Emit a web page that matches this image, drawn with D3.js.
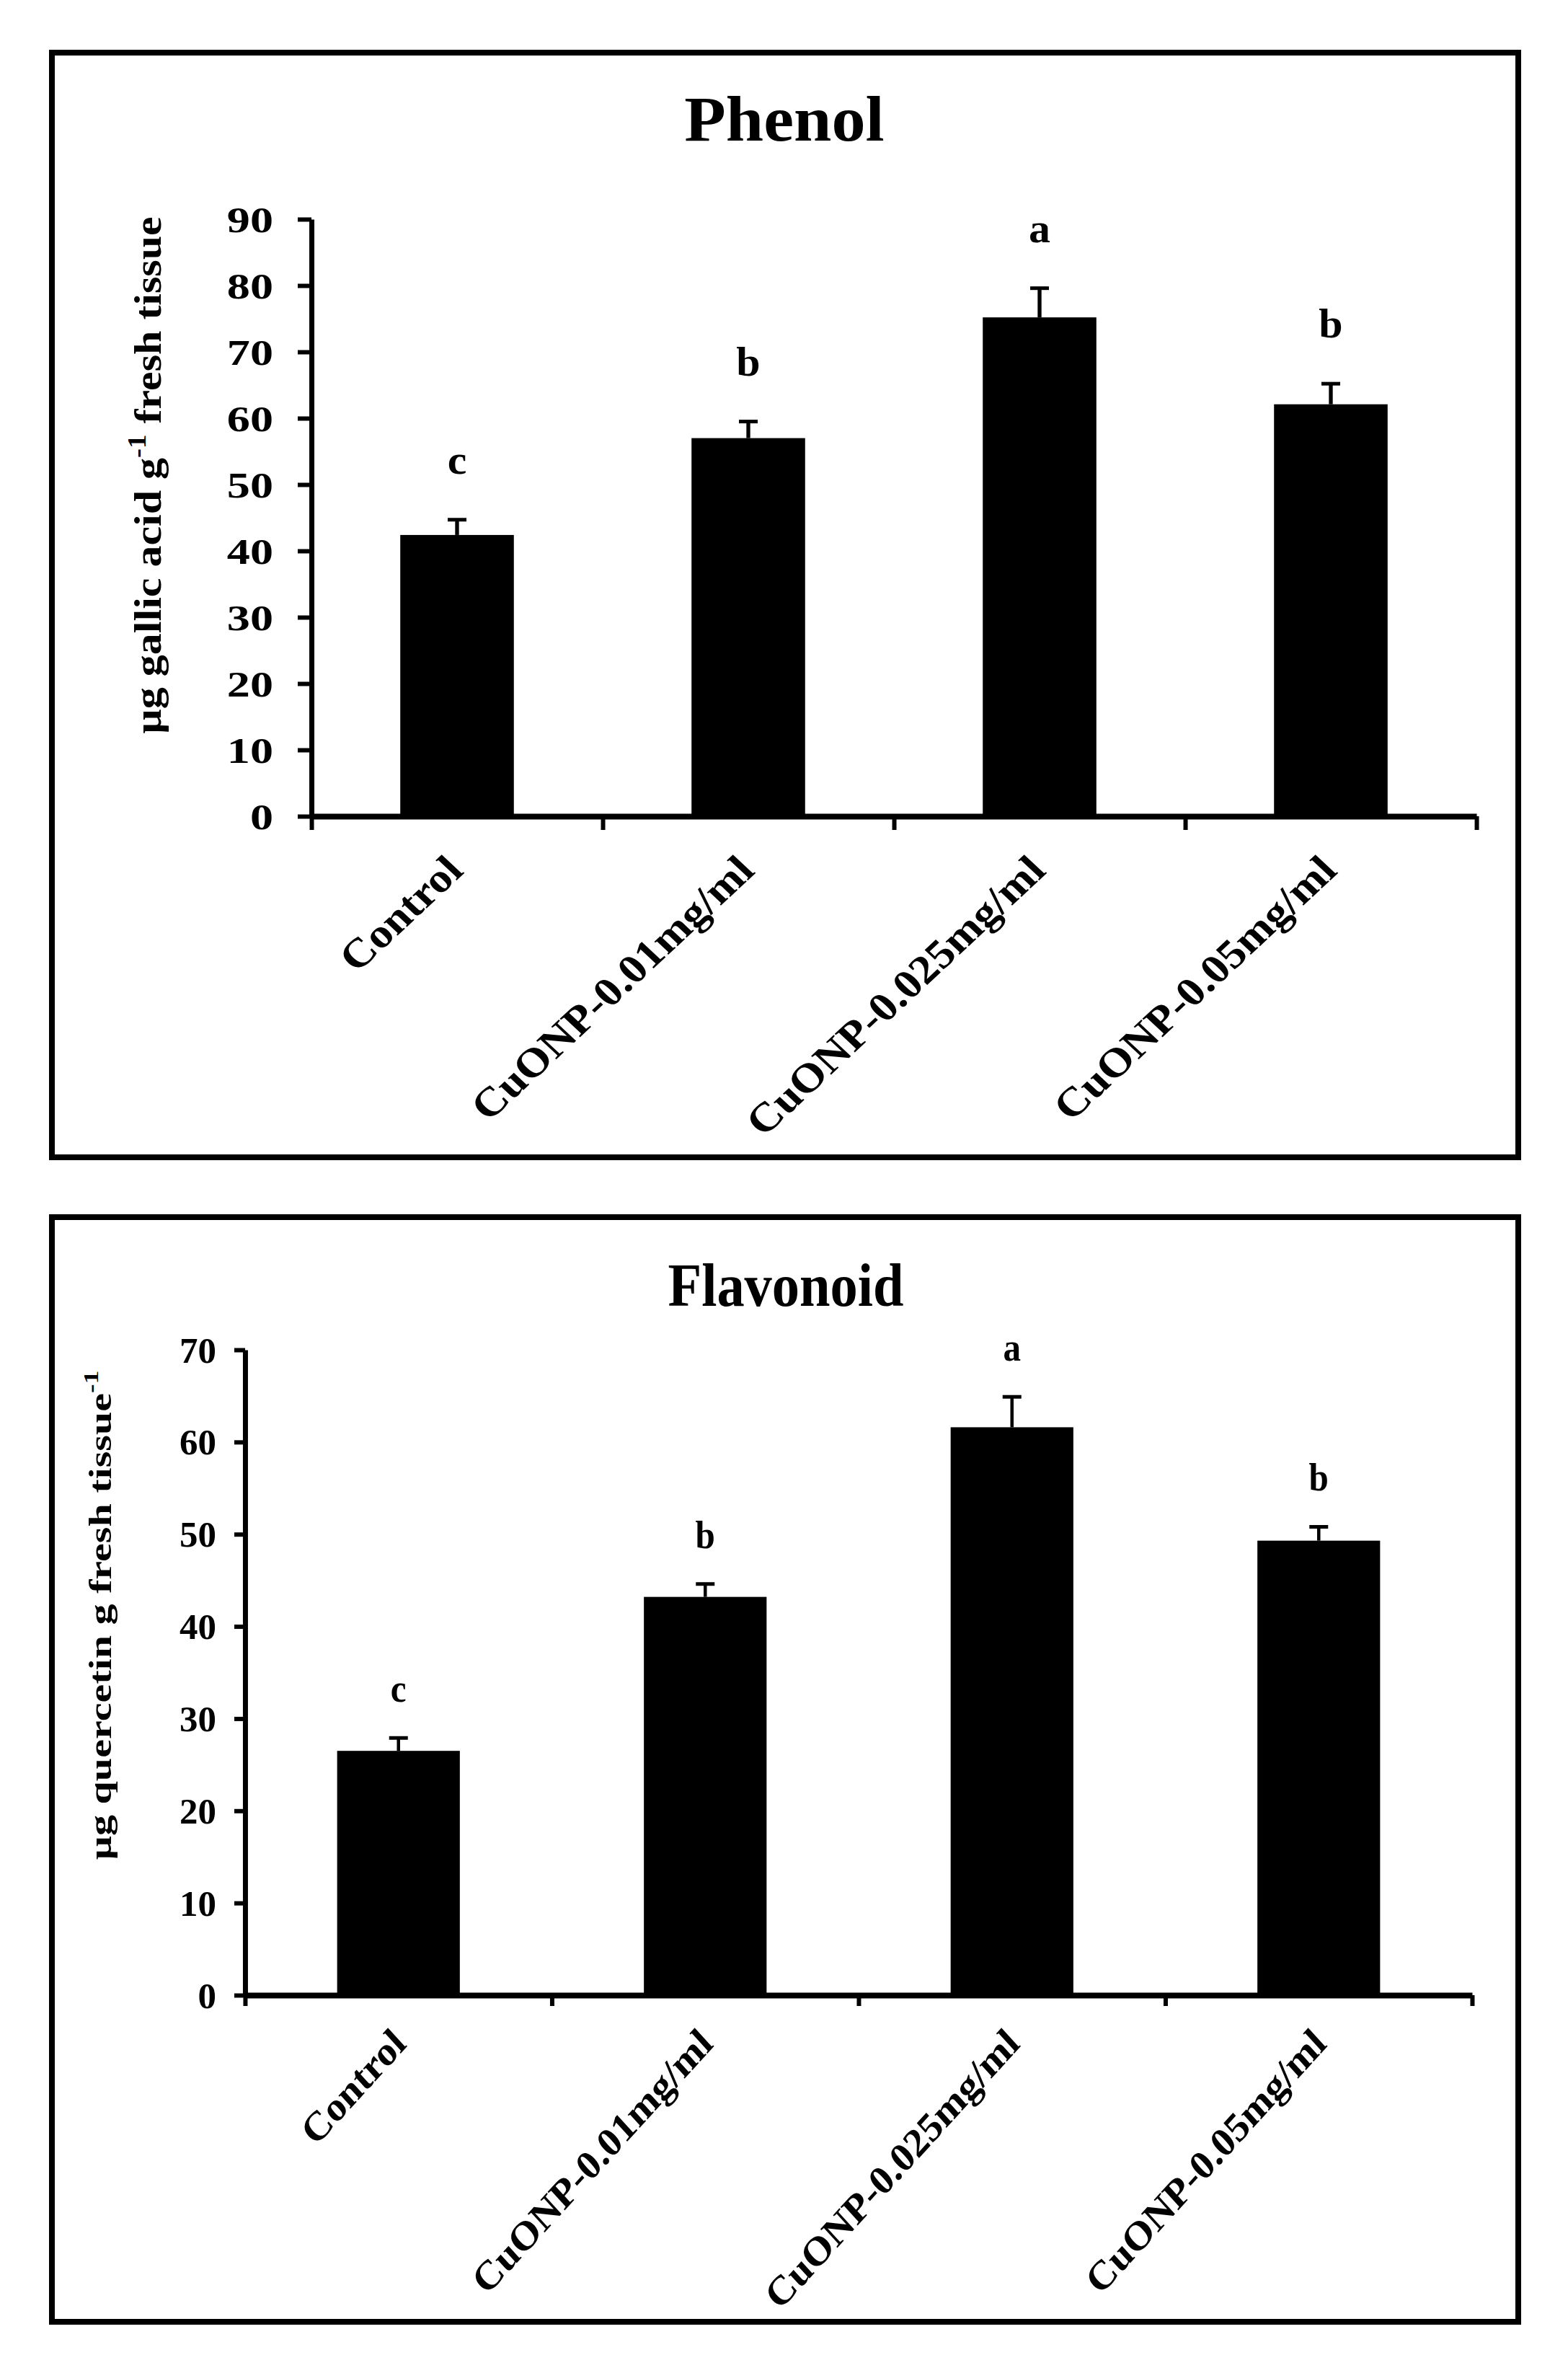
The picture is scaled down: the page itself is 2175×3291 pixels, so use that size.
<!DOCTYPE html>
<html>
<head>
<meta charset="utf-8">
<script src="https://cdn.jsdelivr.net/npm/d3@7"></script>
<style>
  body { margin: 0; background: #fff; }
  text { font-family: "Liberation Serif", "Times New Roman", serif; font-weight: bold; fill: #000; }
</style>
</head>
<body>
<div id="chart"></div>
<script>
// Phenol and flavonoid content under CuO nanoparticle treatments

const categories = ["Control", "CuONP-0.01mg/ml", "CuONP-0.025mg/ml", "CuONP-0.05mg/ml"];

const phenolMeans = [42.4, 57.0, 75.2, 62.1];
const phenolErrors = [2.3, 2.5, 4.4, 3.1];
const phenolLetters = ["c", "b", "a", "b"];
const phenolTicks = [0, 10, 20, 30, 40, 50, 60, 70, 80, 90];

const flavonoidMeans = [26.5, 43.2, 61.6, 49.3];
const flavonoidErrors = [1.4, 1.4, 3.3, 1.5];
const flavonoidLetters = ["c", "b", "a", "b"];
const flavonoidTicks = [0, 10, 20, 30, 40, 50, 60, 70];

const width = 2175;
const height = 3291;

const svg = d3.select("#chart")
    .append("svg")
    .attr("width", width)
    .attr("height", height);

svg.append("rect")
    .attr("width", width)
    .attr("height", height)
    .attr("fill", "#fff");

// layout of each panel, in picture pixels (sx = horizontal stretch of the panel)
const panels = [
    {
        title: "Phenol", means: phenolMeans, errors: phenolErrors, letters: phenolLetters,
        ticks: phenolTicks, yMax: 90,
        frame: [72, 73, 2106, 1605], sx: 1.07,
        axisX: 432, axisEnd: 2048, y0: 1132, yTop: 304, barFrac: 0.39,
        tickLen: 19, tickGap: 53, tickK: 1.2,
        titleX: 1088, titleY: 195, titleSize: 88,
        labelX: 210, labelY: 659, labelSize: 50, labelK: 1.2,
        labelParts: [["µg gallic acid g", false], ["-1", true], [" fresh tissue", false]],
        catDx: 11, catDy: 78, letterGap: 64, letterSize: 56
    },
    {
        title: "Flavonoid", means: flavonoidMeans, errors: flavonoidErrors, letters: flavonoidLetters,
        ticks: flavonoidTicks, yMax: 70,
        frame: [72, 1688, 2106, 3220], sx: 0.91,
        axisX: 340, axisEnd: 2042, y0: 2767, yTop: 1872, barFrac: 0.40,
        tickLen: 15, tickGap: 40, tickK: 1.12,
        titleX: 1090, titleY: 1811, titleSize: 84,
        labelX: 143, labelY: 2240, labelSize: 48, labelK: 1.21,
        labelParts: [["µg quercetin g fresh tissue", false], ["-1", true]],
        catDx: 13, catDy: 70, letterGap: 50, letterSize: 54
    }
];

panels.forEach(drawPanel);

function drawPanel(p) {
    const sx = p.sx;

    // outer frame
    svg.append("rect")
        .attr("x", p.frame[0])
        .attr("y", p.frame[1])
        .attr("width", p.frame[2] - p.frame[0])
        .attr("height", p.frame[3] - p.frame[1])
        .attr("fill", "none")
        .attr("stroke", "#000")
        .attr("stroke-width", 8);

    const g = svg.append("g").attr("transform", `scale(${sx},1)`);

    const x0 = p.axisX / sx;
    const x1 = p.axisEnd / sx;

    const x = d3.scaleBand()
        .domain(categories)
        .range([x0, x1])
        .paddingInner(1 - p.barFrac)
        .paddingOuter((1 - p.barFrac) / 2);

    const y = d3.scaleLinear()
        .domain([0, p.yMax])
        .range([p.y0, p.yTop]);

    const cx = c => x(c) + x.bandwidth() / 2;

    // bars
    g.append("g")
        .selectAll("rect")
        .data(categories)
        .join("rect")
        .attr("x", c => x(c))
        .attr("width", x.bandwidth())
        .attr("y", (c, i) => y(p.means[i]))
        .attr("height", (c, i) => y(0) - y(p.means[i]))
        .attr("fill", "#000");

    // error bars (upper half only)
    const err = g.append("g")
        .attr("stroke", "#000")
        .attr("stroke-width", 5);

    err.selectAll("line.stem")
        .data(categories)
        .join("line")
        .attr("class", "stem")
        .attr("x1", cx)
        .attr("x2", cx)
        .attr("y1", (c, i) => y(p.means[i]))
        .attr("y2", (c, i) => y(p.means[i] + p.errors[i]));

    err.selectAll("line.cap")
        .data(categories)
        .join("line")
        .attr("class", "cap")
        .attr("x1", c => cx(c) - 13 / sx)
        .attr("x2", c => cx(c) + 13 / sx)
        .attr("y1", (c, i) => y(p.means[i] + p.errors[i]))
        .attr("y2", (c, i) => y(p.means[i] + p.errors[i]));

    // significance letters
    g.append("g")
        .selectAll("text")
        .data(categories)
        .join("text")
        .attr("x", cx)
        .attr("y", (c, i) => y(p.means[i] + p.errors[i]) - p.letterGap)
        .attr("text-anchor", "middle")
        .attr("font-size", p.letterSize)
        .text((c, i) => p.letters[i]);

    // y axis
    const yAxis = g.append("g")
        .attr("transform", `translate(${x0},0)`)
        .call(d3.axisLeft(y)
            .tickValues(p.ticks)
            .tickSize(p.tickLen / sx)
            .tickSizeOuter(0)
            .tickPadding(0));

    yAxis.select(".domain")
        .attr("stroke", "#000")
        .attr("stroke-width", 7 / sx);
    yAxis.selectAll(".tick line")
        .attr("stroke", "#000")
        .attr("stroke-width", 6);
    yAxis.selectAll(".tick text")
        .attr("x", -(p.tickGap / sx) / p.tickK)
        .attr("transform", `scale(${p.tickK},1)`)
        .attr("dy", "0.34em")
        .attr("font-size", 50)
        .attr("font-family", null);

    // x axis with ticks at band boundaries
    const xb = d3.scaleLinear().domain([0, categories.length]).range([x0, x1]);
    const xAxis = g.append("g")
        .attr("transform", `translate(0,${p.y0})`)
        .call(d3.axisBottom(xb)
            .ticks(categories.length)
            .tickFormat("")
            .tickSize(p.tickLen)
            .tickSizeOuter(0));

    xAxis.select(".domain")
        .attr("stroke", "#000")
        .attr("stroke-width", 8);
    xAxis.selectAll(".tick line")
        .attr("stroke", "#000")
        .attr("stroke-width", 6 / sx);

    // category labels
    g.append("g")
        .selectAll("text")
        .data(categories)
        .join("text")
        .attr("transform", c => `translate(${cx(c) + p.catDx / sx},${p.y0 + p.catDy}) rotate(-45) scale(1.07,1)`)
        .attr("text-anchor", "end")
        .attr("font-size", 56)
        .text(c => c);

    // title
    g.append("text")
        .attr("x", p.titleX / sx)
        .attr("y", p.titleY)
        .attr("text-anchor", "middle")
        .attr("font-size", p.titleSize)
        .text(p.title);

    // y axis label
    const lab = g.append("text")
        .attr("transform", `translate(${p.labelX / sx},${p.labelY}) rotate(-90) scale(${p.labelK},1)`)
        .attr("text-anchor", "middle")
        .attr("dy", "0.25em")
        .attr("font-size", p.labelSize);

    p.labelParts.forEach(([s, sup], i) => {
        const prevSup = i > 0 && p.labelParts[i - 1][1];
        lab.append("tspan")
            .attr("font-size", sup ? p.labelSize * 0.65 : p.labelSize)
            .attr("dy", sup ? -p.labelSize * 0.4 : (prevSup ? p.labelSize * 0.4 : null))
            .text(s);
    });
}
</script>
</body>
</html>
